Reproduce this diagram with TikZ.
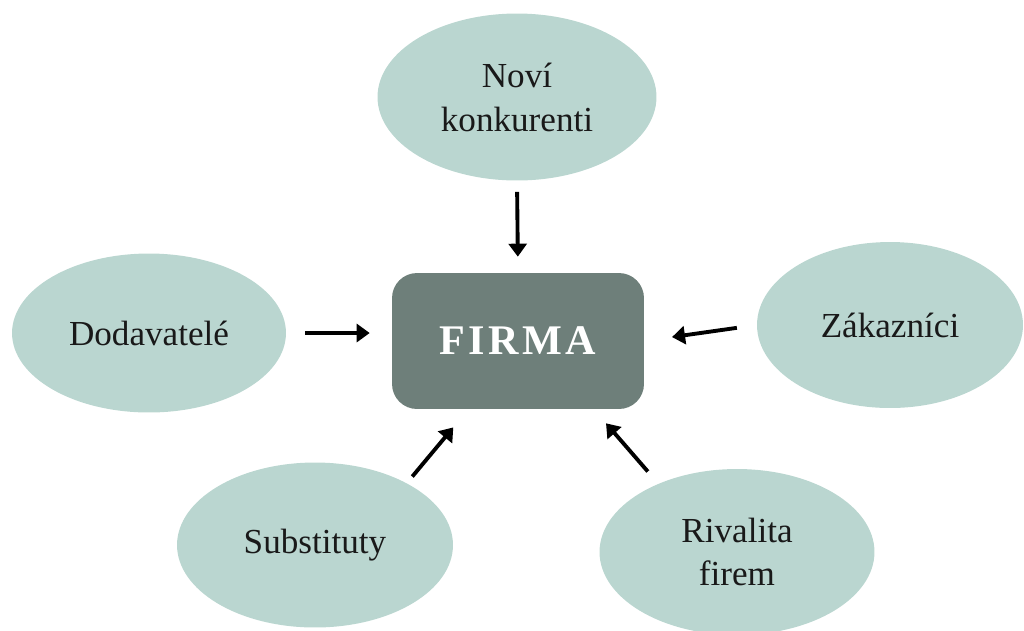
\documentclass[tikz,border=0pt]{standalone}
\usepackage{fontspec}
\setmainfont{Liberation Serif}
\newfontfamily\firmafont[LetterSpace=8]{Liberation Serif}
\usepackage{xcolor}
\usetikzlibrary{shapes.geometric, arrows.meta, positioning, calc}
\definecolor{silafill}{HTML}{BAD6D0}
\definecolor{firmafill}{HTML}{6E7F7A}

\begin{document}
\begin{tikzpicture}[x=0.02cm, y=-0.02cm,
    sila/.style={ellipse, fill=silafill, draw=none, inner sep=0pt, align=center,
      font=\fontsize{20}{25}\selectfont, text=black!90},
    firma/.style={rectangle, rounded corners=0.5cm, fill=firmafill, draw=none,
      minimum width=5.04cm, minimum height=2.72cm,
      font=\firmafont\bfseries\fontsize{24}{28}\selectfont, text=white},
    sipka/.style={line width=2.2pt, -{Triangle[length=2.6mm, width=3.6mm]}}]

    \useasboundingbox (0,0) rectangle (1024,630);

    % firma uprostred
    \node[firma] (firma) at (518,341) {FIRMA};

    % pet sil
    \node[sila, minimum width=5.58cm, minimum height=3.34cm] (novi) at (517,97) {Noví\\konkurenti};
    \node[sila, minimum width=5.48cm, minimum height=3.18cm] (dodav) at (149,333) {Dodavatelé};
    \node[sila, minimum width=5.32cm, minimum height=3.32cm] (zak) at (890,325) {Zákazníci};
    \node[sila, minimum width=5.52cm, minimum height=3.30cm] (subst) at (315,545) {Substituty};
    \node[sila, minimum width=5.50cm, minimum height=3.32cm] (rival) at (737,552) {Rivalita\\firem};

    % sipky
    \draw[sipka, shorten <=0.22cm, shorten >=0.32cm] (novi.south) -- (firma.north);
    \draw[sipka, shorten <=0.38cm, shorten >=0.44cm] (dodav.east) -- (dodav.east -| firma.west);
    \draw[sipka, shorten <=0.40cm, shorten >=0.56cm] (zak.west) -- (firma.east);
    \draw[sipka, shorten <=0.17cm, shorten >=0.47cm] (subst.34) -- (firma.234);
    \draw[sipka, shorten <=0.32cm, shorten >=0.37cm] (rival.139) -- (firma.318);
\end{tikzpicture}
\end{document}
